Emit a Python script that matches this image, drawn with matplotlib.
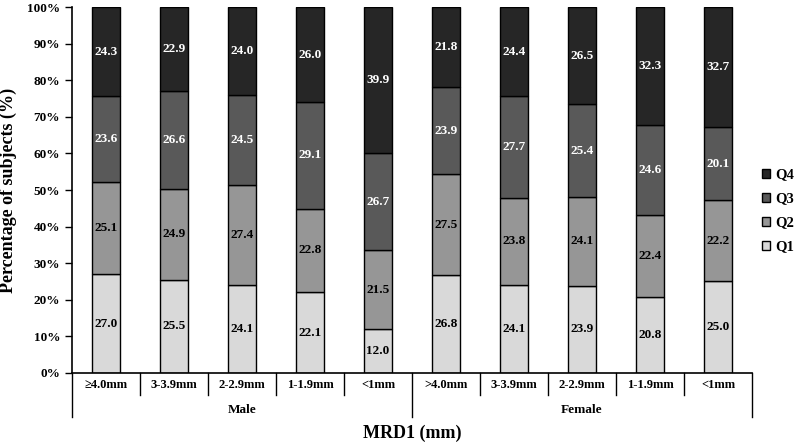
import numpy as np
import matplotlib.pyplot as plt

plt.rcParams['font.family'] = ['Liberation Serif', 'DejaVu Serif']
plt.rcParams['font.weight'] = 'bold'

# categories
sizes = ['\u22654.0mm', '3-3.9mm', '2-2.9mm', '1-1.9mm', '<1mm',
         '>4.0mm', '3-3.9mm', '2-2.9mm', '1-1.9mm', '<1mm']
groups = ['Male', 'Female']

# quartile shares (%)
q1 = [27.0, 25.5, 24.1, 22.1, 12.0, 26.8, 24.1, 23.9, 20.8, 25.0]
q2 = [25.1, 24.9, 27.4, 22.8, 21.5, 27.5, 23.8, 24.1, 22.4, 22.2]
q3 = [23.6, 26.6, 24.5, 29.1, 26.7, 23.9, 27.7, 25.4, 24.6, 20.1]
q4 = [24.3, 22.9, 24.0, 26.0, 39.9, 21.8, 24.4, 26.5, 32.3, 32.7]

series = [('Q1', q1, '#d9d9d9', 'black'),
          ('Q2', q2, '#969696', 'black'),
          ('Q3', q3, '#595959', 'white'),
          ('Q4', q4, '#262626', 'white')]

fig = plt.figure(figsize=(7.97, 4.44), dpi=100)
ax = fig.add_axes([0.0903, 0.16, 0.8532, 0.824])

x = np.arange(len(sizes))
bottom = np.zeros(len(sizes))
handles = []
for name, vals, col, tcol in series:
    vals = np.array(vals)
    b = ax.bar(x, vals, 0.41, bottom=bottom, color=col, edgecolor='black',
               linewidth=1, label=name)
    handles.append(b)
    for xi, v, bt in zip(x, vals, bottom):
        ax.text(xi, bt + v / 2, f'{v:.1f}', ha='center', va='center',
                color=tcol, fontsize=9.5, fontweight='bold')
    bottom += vals

ax.set_xlim(-0.5, len(sizes) - 0.5)
ax.set_ylim(0, 100)
ax.set_yticks(np.arange(0, 101, 10))
ax.set_yticklabels([f'{t}%' for t in range(0, 101, 10)], fontsize=9.5, fontweight='bold')
ax.tick_params(axis='y', direction='out', length=5, width=1)
ax.set_xticks([])
for s in ['top', 'right']:
    ax.spines[s].set_visible(False)
ax.spines['left'].set_linewidth(1.2)
ax.spines['bottom'].set_linewidth(1.2)

ax.set_ylabel('Percentage of subjects (%)', fontsize=13, fontweight='bold', labelpad=7)

# category labels and divider lines
n = len(sizes)
for i, lab in enumerate(sizes):
    ax.text((i + 0.5) / n, -0.033, lab, transform=ax.transAxes, ha='center',
            va='center', fontsize=9, fontweight='bold')
for i in range(n + 1):
    low = -0.12 if i in (0, 5, 10) else -0.06
    ax.plot([i / n, i / n], [0, low], transform=ax.transAxes, color='black',
            lw=1, clip_on=False)
for j, g in enumerate(groups):
    ax.text(0.25 + 0.5 * j, -0.10, g, transform=ax.transAxes, ha='center',
            va='center', fontsize=9.5, fontweight='bold')

fig.text(0.5 * (0.0903 + 0.9435), 0.025, 'MRD1 (mm)', ha='center', va='center',
         fontsize=13, fontweight='bold')

leg = ax.legend(handles[::-1], ['Q4', 'Q3', 'Q2', 'Q1'], loc='center left',
                bbox_to_anchor=(0.995, 0.443), frameon=False, fontsize=10.5,
                handlelength=0.6, handleheight=0.6, handletextpad=0.3,
                labelspacing=0.75)

fig.savefig('out.png', dpi=100)
